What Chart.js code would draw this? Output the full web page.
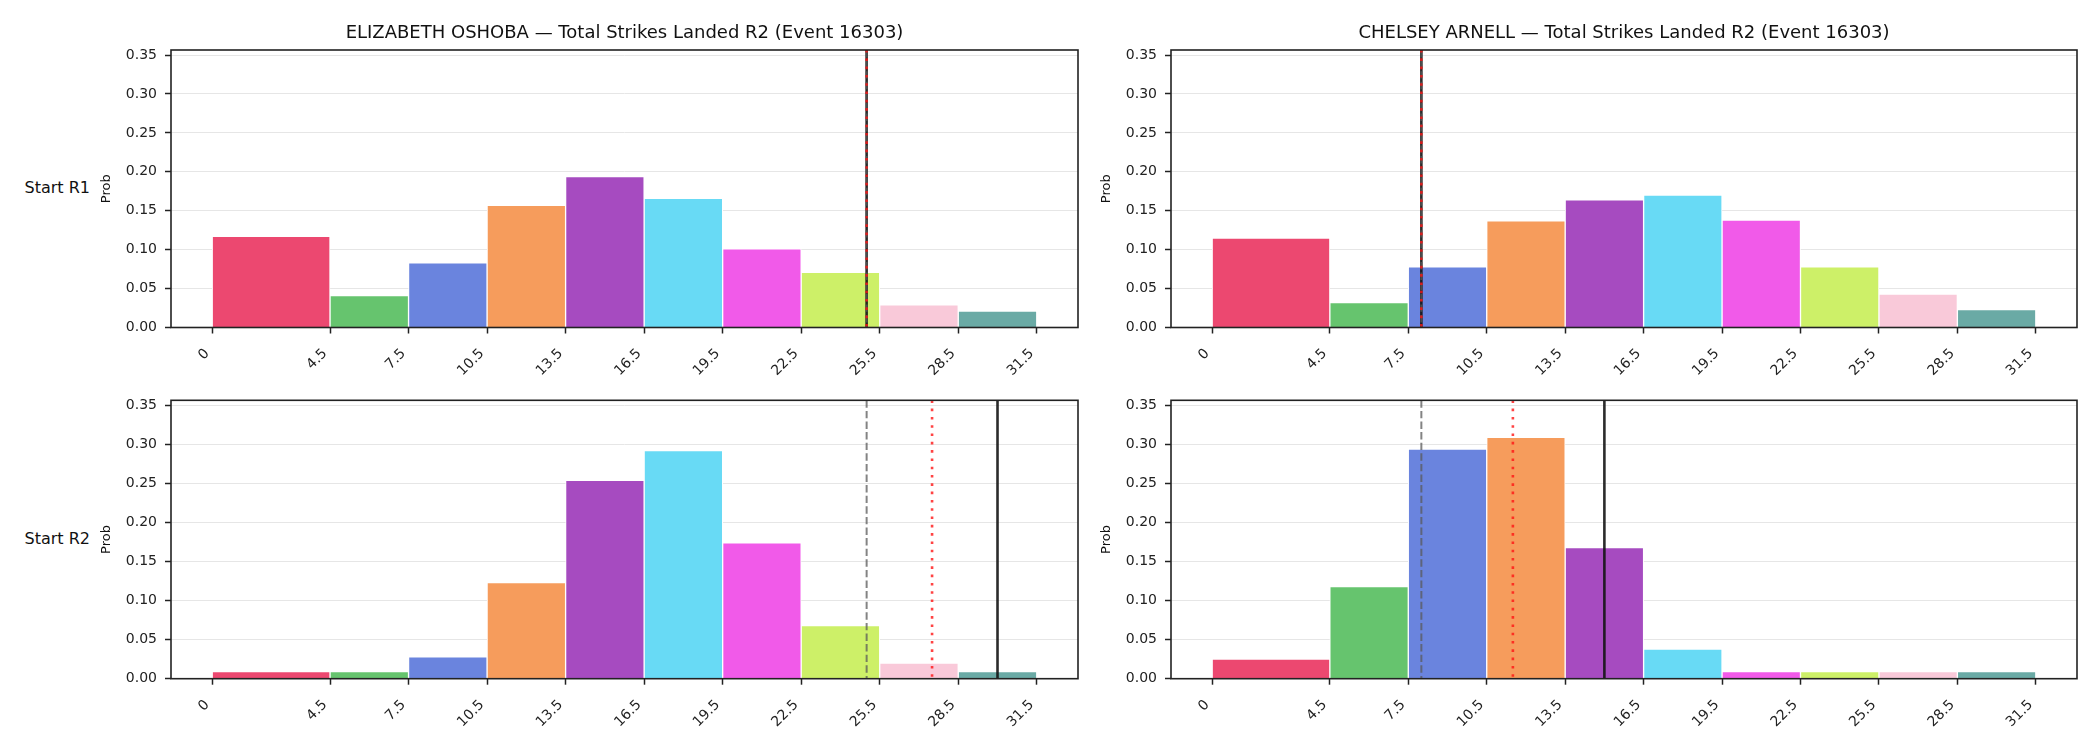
<!DOCTYPE html>
<html>
<head>
<meta charset="utf-8">
<script src="https://cdn.jsdelivr.net/npm/chart.js@4.4.1/dist/chart.umd.min.js"></script>
<style>
  html, body { margin: 0; padding: 0; background: #fff; }
  #wrap { position: relative; width: 2100px; height: 750px; background: #fff; overflow: hidden; }
  canvas { position: absolute; }
  .rowlab { position: absolute; font: 16px "DejaVu Sans", sans-serif; color: #111; text-align: right; width: 90px; left: 0; line-height: 20px; }
</style>
</head>
<body>
<div id="wrap">
  <canvas id="c0" width="1000" height="400" style="left:91px;top:0px"></canvas>
  <canvas id="c1" width="1009" height="400" style="left:1091px;top:0px"></canvas>
  <canvas id="c2" width="1000" height="370" style="left:91px;top:380px"></canvas>
  <canvas id="c3" width="1009" height="370" style="left:1091px;top:380px"></canvas>
  <div class="rowlab" style="top:178px">Start R1</div>
  <div class="rowlab" style="top:529px">Start R2</div>
</div>
<script>
// bordes de los intervalos (eje x) y marcas del eje y
const binEdges = [0, 4.5, 7.5, 10.5, 13.5, 16.5, 19.5, 22.5, 25.5, 28.5, 31.5];
const yTicks = [0, 0.05, 0.10, 0.15, 0.20, 0.25, 0.30, 0.35];

const barColors = ['#EC4870', '#66C46E', '#6A84DE', '#F69C5C', '#A64BC0',
                   '#68DAF5', '#F15AE9', '#CDF068', '#F9C9D9', '#6AAAA5'];

const titles = ['ELIZABETH OSHOBA \u2014 Total Strikes Landed R2 (Event 16303)',
                'CHELSEY ARNELL \u2014 Total Strikes Landed R2 (Event 16303)'];

// probabilidades por intervalo
const oshobaR1 = [0.117, 0.041, 0.083, 0.157, 0.194, 0.166, 0.101, 0.071, 0.029, 0.021];
const arnellR1 = [0.115, 0.032, 0.078, 0.137, 0.164, 0.170, 0.138, 0.078, 0.043, 0.023];
const oshobaR2 = [0.009, 0.009, 0.028, 0.123, 0.254, 0.292, 0.174, 0.068, 0.020, 0.009];
const arnellR2 = [0.025, 0.118, 0.294, 0.309, 0.168, 0.038, 0.009, 0.009, 0.009, 0.009];

// lineas verticales: gris discontinua, roja punteada, negra continua
const dashedLines = [25, 8, 25, 8];
const dottedLines = [25, 8, 27.5, 11.5];
const solidLines = [25, 8, 30, 15];

const xMin = -1.575, xMax = 33.075, yMax = 0.3565;
const FONT = '"DejaVu Sans", sans-serif';

const anchoBarras = {
    id: 'anchoBarras',
    beforeDatasetsUpdate(chart) {
        const xs = chart.scales.x;
        chart.data.datasets.forEach((ds, i) => {
            ds.barThickness = xs.getPixelForValue(binEdges[i + 1]) - xs.getPixelForValue(binEdges[i]);
        });
    }
};

const lineasRef = {
    id: 'lineasRef',
    afterDatasetsDraw(chart, args, opts) {
        const {ctx, chartArea: a, scales: {x}} = chart;
        ctx.save();
        ctx.beginPath();
        ctx.rect(a.left, a.top, a.right - a.left, a.bottom - a.top);
        ctx.clip();
        const draw = (v, color, width, dash) => {
            const px = x.getPixelForValue(v);
            ctx.beginPath();
            ctx.strokeStyle = color;
            ctx.lineWidth = width;
            ctx.setLineDash(dash);
            ctx.moveTo(px, a.top);
            ctx.lineTo(px, a.bottom);
            ctx.stroke();
        };
        draw(opts.solid, 'rgba(20,20,20,0.9)', 2.6, []);
        draw(opts.dashed, 'rgba(90,90,90,0.75)', 2, [7.4, 3.2]);
        draw(opts.dotted, 'rgba(255,20,20,0.8)', 2.6, [2.6, 5.7]);
        ctx.restore();
    }
};

const marco = {
    id: 'marco',
    afterDraw(chart) {
        const {ctx, chartArea: a} = chart;
        ctx.save();
        ctx.strokeStyle = '#222';
        ctx.lineWidth = 1.6;
        ctx.strokeRect(a.left, a.top, a.right - a.left, a.bottom - a.top);
        ctx.restore();
    }
};

function crearPanel(id, probs, idx, row, col) {
    const datasets = probs.map((p, i) => ({
        data: [{x: (binEdges[i] + binEdges[i + 1]) / 2, y: p}],
        backgroundColor: barColors[i],
        borderColor: '#ffffff',
        borderWidth: 1,
        stack: 'bins'
    }));
    const padR = col === 0 ? 13 : 23;
    new Chart(document.getElementById(id).getContext('2d'), {
        type: 'bar',
        data: {datasets},
        plugins: [anchoBarras, lineasRef, marco],
        options: {
            responsive: false,
            animation: false,
            devicePixelRatio: 1,
            layout: {padding: {left: 0, right: padR, top: row === 0 ? 0 : 20.3, bottom: 0}},
            plugins: {
                legend: {display: false},
                tooltip: {enabled: false},
                title: {
                    display: row === 0,
                    text: titles[col],
                    fullSize: false,
                    color: '#111',
                    font: {family: FONT, size: 18, weight: 'normal'},
                    padding: {top: 22.1, bottom: 6.3}
                },
                lineasRef: {dashed: dashedLines[idx], dotted: dottedLines[idx], solid: solidLines[idx]}
            },
            scales: {
                x: {
                    type: 'linear',
                    min: xMin,
                    max: xMax,
                    offset: false,
                    afterBuildTicks: (s) => { s.ticks = binEdges.map(v => ({value: v})); },
                    afterFit: (s) => { s.height = row === 0 ? 72.5 : 71.3; },
                    grid: {offset: false, drawOnChartArea: false, tickColor: '#222', tickLength: 6, tickWidth: 1.5},
                    border: {display: false},
                    ticks: {
                        minRotation: 45, maxRotation: 45, autoSkip: false, padding: 12, labelOffset: -5,
                        color: '#222', font: {family: FONT, size: 14},
                        callback: (v) => String(v)
                    }
                },
                y: {
                    min: 0,
                    max: yMax,
                    stacked: false,
                    afterBuildTicks: (s) => { s.ticks = yTicks.map(v => ({value: v})); },
                    afterFit: (s) => { s.width = 80; },
                    grid: {color: '#e6e6e6', lineWidth: 1, tickColor: '#222', tickLength: 6, tickWidth: 1.5},
                    border: {display: false},
                    title: {display: true, text: 'Prob', color: '#111', font: {family: FONT, size: 13}, padding: {top: 7.7, bottom: 0}},
                    ticks: {
                        padding: 8, color: '#222', font: {family: FONT, size: 14},
                        callback: (v) => Number(v).toFixed(2)
                    }
                }
            }
        }
    });
}

document.addEventListener('DOMContentLoaded', function () {
    crearPanel('c0', oshobaR1, 0, 0, 0);
    crearPanel('c1', arnellR1, 1, 0, 1);
    crearPanel('c2', oshobaR2, 2, 1, 0);
    crearPanel('c3', arnellR2, 3, 1, 1);
});
</script>
</body>
</html>
